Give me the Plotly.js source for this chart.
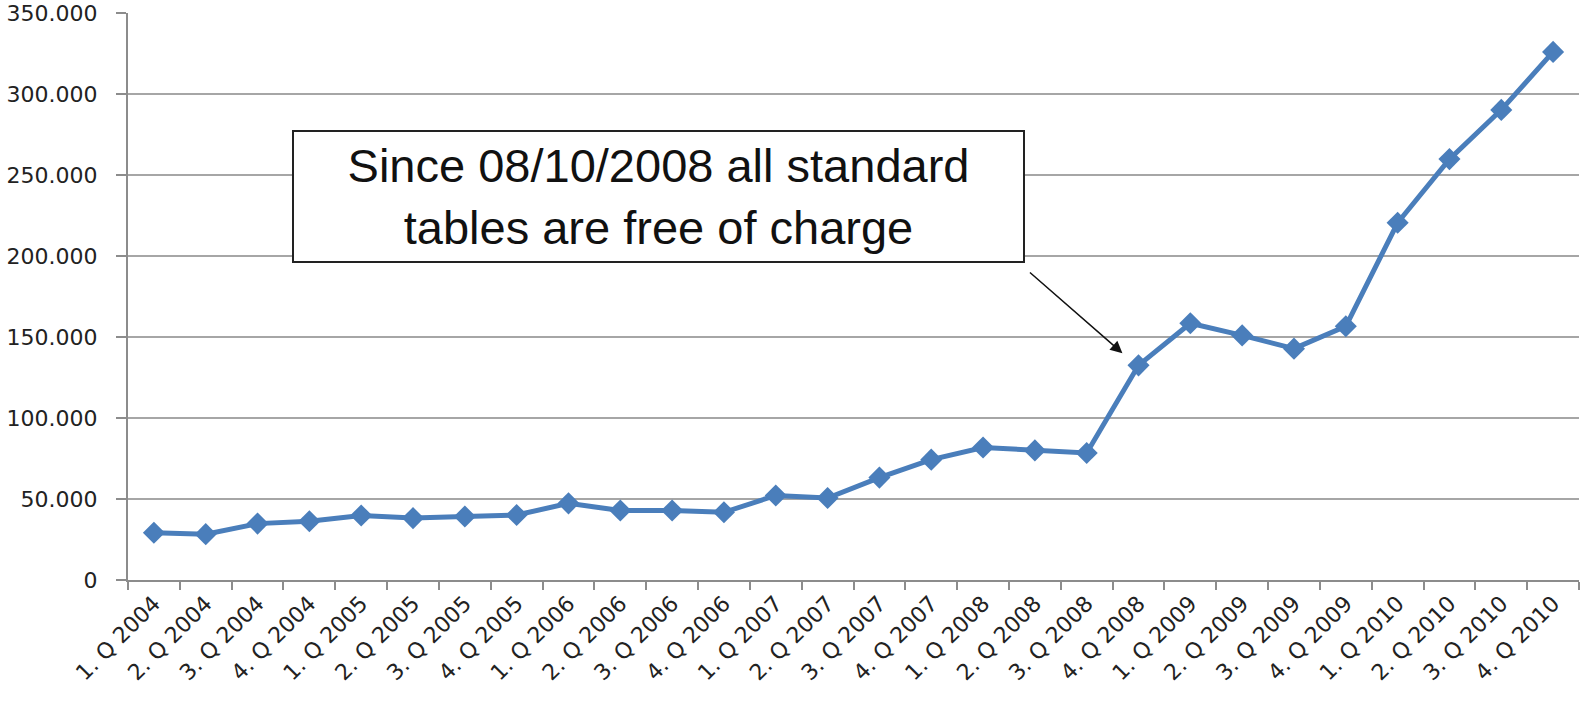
<!DOCTYPE html>
<html>
<head>
<meta charset="utf-8">
<script src="https://cdn.plot.ly/plotly-3.0.1.min.js"></script>
<style>html,body{margin:0;padding:0;background:#fff;}#chart{width:1581px;height:709px;}</style>
</head>
<body>
<div id="chart"></div>
<script>
var quarters = [
  "1. Q 2004","2. Q 2004","3. Q 2004","4. Q 2004",
  "1. Q 2005","2. Q 2005","3. Q 2005","4. Q 2005",
  "1. Q 2006","2. Q 2006","3. Q 2006","4. Q 2006",
  "1. Q 2007","2. Q 2007","3. Q 2007","4. Q 2007",
  "1. Q 2008","2. Q 2008","3. Q 2008","4. Q 2008",
  "1. Q 2009","2. Q 2009","3. Q 2009","4. Q 2009",
  "1. Q 2010","2. Q 2010","3. Q 2010","4. Q 2010"
];
var tables = [
  29200, 28300, 34800, 36300,
  39800, 38200, 39200, 40100,
  47300, 42900, 42900, 41800,
  52200, 50600, 63200, 74300,
  81800, 80000, 78400, 132500,
  158500, 151000, 142800, 156600,
  220500, 259800, 290200, 326000
];
var yTicks = [0, 50000, 100000, 150000, 200000, 250000, 300000, 350000];
var noteText = "Since 08/10/2008 all standard<br>tables are free of charge";

var trace = {
  x: quarters,
  y: tables,
  type: "scatter",
  mode: "lines+markers",
  line: {color: "#4a7ebb", width: 5},
  marker: {symbol: "diamond", size: 17, color: "#4a7ebb"},
  hoverinfo: "x+y"
};

var layout = {
  width: 1581,
  height: 709,
  margin: {l: 128, r: 2, t: 13, b: 129},
  paper_bgcolor: "#ffffff",
  plot_bgcolor: "#ffffff",
  separators: ",.",
  showlegend: false,
  xaxis: {
    type: "category",
    tickangle: -45,
    tickson: "boundaries",
    ticks: "outside",
    ticklen: 8,
    tickwidth: 2,
    tickcolor: "#8c8c8c",
    showline: true,
    linecolor: "#8c8c8c",
    linewidth: 2,
    showgrid: false,
    zeroline: false,
    tickfont: {family: "DejaVu Sans, sans-serif", size: 22, color: "#222222"},
    range: [-0.5, 27.5]
  },
  yaxis: {
    range: [0, 350000],
    tickvals: yTicks,
    tickformat: ",d",
    ticks: "outside",
    ticklen: 10,
    tickwidth: 2,
    tickcolor: "#8c8c8c",
    showline: true,
    linecolor: "#8c8c8c",
    linewidth: 2,
    showgrid: true,
    gridcolor: "#a6a6a6",
    gridwidth: 2,
    zeroline: false,
    ticklabelstandoff: 14,
    tickfont: {family: "DejaVu Sans, sans-serif", size: 22, color: "#222222"}
  },
  annotations: [
    {
      xref: "x", yref: "y",
      x: 9.74, y: 236700,
      xanchor: "center", yanchor: "middle",
      text: noteText,
      showarrow: false,
      align: "center",
      font: {family: "Liberation Sans, Arial, sans-serif", size: 47, color: "#111111"},
      bgcolor: "#ffffff",
      bordercolor: "#222222",
      borderwidth: 2,
      borderpad: 0,
      width: 729,
      height: 129
    },
    {
      xref: "x", yref: "y",
      x: 18.69, y: 140000,
      text: "",
      showarrow: true,
      arrowhead: 2,
      arrowsize: 1.6,
      arrowwidth: 1.5,
      arrowcolor: "#111111",
      ax: -94,
      ay: -82
    }
  ]
};

Plotly.newPlot("chart", [trace], layout, {displayModeBar: false, responsive: false});
</script>
</body>
</html>
